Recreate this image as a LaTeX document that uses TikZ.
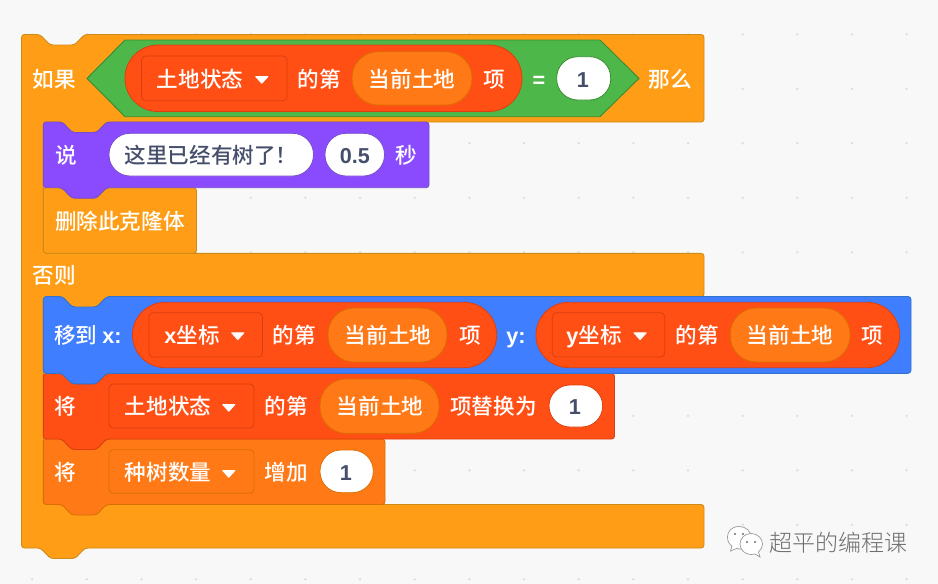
\documentclass[tikz,border=0pt]{standalone}
\usepackage{fontspec}
\setmainfont{Noto Sans CJK SC}[UprightFont=* Medium]
\newfontfamily\latfont{Liberation Sans}[UprightFont=* Bold]
\newfontfamily\markfont{Noto Sans CJK SC}[UprightFont=* Light]
\definecolor{canvasbg}{HTML}{F8F8F8}
\definecolor{griddot}{HTML}{DDDDDD}
\definecolor{ctrlfill}{HTML}{FF9E16}
\definecolor{ctrlline}{HTML}{CF8B17}
\definecolor{lookfill}{HTML}{8A4BFF}
\definecolor{lookline}{HTML}{774DCB}
\definecolor{movefill}{HTML}{3F7FFF}
\definecolor{moveline}{HTML}{3373CC}
\definecolor{listfill}{HTML}{FF4F14}
\definecolor{listline}{HTML}{DB3F10}
\definecolor{varfill}{HTML}{FF7A16}
\definecolor{varline}{HTML}{DB6E00}
\definecolor{opfill}{HTML}{4DB849}
\definecolor{opline}{HTML}{3A8A32}
\definecolor{inktext}{HTML}{454F6B}
\definecolor{marktext}{HTML}{6E6E6E}
\tikzset{
  wtext/.style={text=white,inner sep=0pt,text height=16pt,text depth=0pt,font=\fontsize{21.6}{24}\selectfont},
  dtext/.style={wtext,text=inktext},
  ctrlblock/.style={fill=ctrlfill,draw=ctrlline,line width=.9pt},
  lookblock/.style={fill=lookfill,draw=lookline,line width=.9pt},
  moveblock/.style={fill=movefill,draw=moveline,line width=.9pt},
  listblock/.style={fill=listfill,draw=listline,line width=.9pt},
  varblock/.style={fill=varfill,draw=varline,line width=.9pt},
  listslot/.style={fill=listfill,draw=listline,line width=.8pt},
  varslot/.style={fill=varfill,draw=varline,line width=.8pt},
  whiteslot/.style={line width=.8pt,fill=white},
  ddmark/.style={fill=white,draw=white,line width=1pt,line join=round},
  bubble/.style={fill=white,draw=marktext!70,line width=.7pt},
}
% stack block with a tab under it: style, x1, y1, x2, y2
\newcommand{\stackblock}[5]{%
  \draw[#1,rounded corners=3pt] (#2,#3+9) -- (#2,#3) -- ++(19,0) -- ++(10,10.5) -- ++(24.5,0) -- ++(10,-10.5)
    -- (#4,#3) -- (#4,#5) -- ({#2+63},#5) -- ++(-10,10.5) -- ++(-24.5,0) -- ++(-10,-10.5) -- (#2,#5) -- cycle;}
% last block of a stack, no tab
\newcommand{\capblock}[5]{%
  \draw[#1,rounded corners=3pt] (#2,#3+9) -- (#2,#3) -- ++(19,0) -- ++(10,10.5) -- ++(24.5,0) -- ++(10,-10.5)
    -- (#4,#3) -- (#4,#5) -- (#2,#5) -- cycle;}
% pill: style, x1, y1, x2, y2, radius
\newcommand{\slotpill}[6]{\draw[#1,rounded corners=#6pt] (#2,#3) rectangle (#4,#5);}
% dropdown triangle: left x, top y
\newcommand{\ddtri}[2]{\fill[ddmark] (#1+.8,#2+.6) -- (#1+12.8,#2+.6) -- (#1+6.8,#2+7.2) -- cycle;}
\begin{document}
\begin{tikzpicture}[x=1pt,y=-1pt]
\useasboundingbox (0,0) rectangle (938,584);
\fill[canvasbg] (0,0) rectangle (938,584);
\foreach \i in {0,...,16}{\foreach \j in {0,...,10}{
  \fill[griddot] ({32.2+54.65*\i},{34.3+54.5*\j}) circle (1.3pt);}}
% C block
\draw[ctrlblock,rounded corners=3pt] (21.5,44) -- (21.5,34.5) -- (40,34.5) -- ++(10,10.5) -- ++(24.5,0) -- ++(10,-10.5)
  -- (704,34.5) -- (704,122) -- (106.3,122) -- ++(-10,10.5) -- ++(-24.5,0) -- ++(-10,-10.5) -- (43.3,122)
  -- (43.3,253.3) -- (704,253.3) -- (704,297) -- (106.3,297) -- ++(-10,10.5) -- ++(-24.5,0) -- ++(-10,-10.5) -- (43.3,297)
  -- (43.3,504.5) -- (704,504.5) -- (704,548) -- (85,548) -- ++(-10,10.5) -- ++(-24.5,0) -- ++(-10,-10.5) -- (21.5,548) -- cycle;
\node[wtext] (ifword) at (54.5,79) {如果};
\node[wtext] (thenword) at (670,79) {那么};
\node[wtext] (elseword) at (54.5,275) {否则};
% Condition
\draw[fill=opfill,draw=opline,line width=.9pt,line join=miter] (87,78.4) -- (125,40) -- (600,40) -- (639,78.4) -- (600,116.7) -- (125,116.7) -- cycle;
\slotpill{listslot}{125}{45}{522}{111.5}{33}
\slotpill{listslot}{141.5}{56}{287}{100.7}{4}
\node[wtext] (statea) at (200,79) {土地状态};
\ddtri{255}{76}
\node[wtext] (ofa) at (319.5,79) {的第};
\slotpill{varslot}{352}{51.7}{472}{105}{26}
\node[wtext] (curra) at (412,79) {当前土地};
\node[wtext] (itema) at (494,79) {项};
\node[wtext] (eqsign) at (539,79) {\latfont =};
\slotpill{whiteslot,draw=opline}{556.7}{56.7}{610.7}{100}{21}
\node[dtext] (onea) at (583,79) {\latfont 1};
% Delete block, then say block over it
\capblock{ctrlblock}{43.3}{187.7}{196.5}{253.3}
\node[wtext] (deleteword) at (120,221.7) {删除此克隆体};
\stackblock{lookblock}{43.3}{122}{429}{187.7}
\node[wtext] (sayword) at (66,155.5) {说};
\slotpill{whiteslot,draw=lookline}{109}{133.3}{313.5}{176}{21}
\node[dtext,anchor=west] (saytext) at (124.5,155.5) {这里已经有树了！};
\slotpill{whiteslot,draw=lookline}{325}{133.3}{384.5}{176}{21}
\node[dtext] (saynum) at (354.8,155.5) {\latfont 0.5};
\node[wtext] (secword) at (406,155.5) {秒};
% Change variable block
\stackblock{varblock}{43.3}{439}{385}{504.5}
\node[wtext] (setb) at (65.5,472.3) {将};
\slotpill{varslot}{109}{449.7}{254}{493.3}{4}
\node[wtext] (treevar) at (168,472.3) {种树数量};
\ddtri{222}{470}
\node[wtext] (incword) at (286,472.3) {增加};
\slotpill{whiteslot,draw=varline}{320}{450}{373.3}{492.7}{21}
\node[dtext] (oneb) at (346,472.3) {\latfont 1};
% Replace item block
\stackblock{listblock}{43.3}{373.3}{614.5}{439}
\node[wtext] (setc) at (65.5,406.7) {将};
\slotpill{listslot}{109}{384}{254}{428}{4}
\node[wtext] (statec) at (168,406.7) {土地状态};
\ddtri{222}{404}
\node[wtext] (ofc) at (286,406.7) {的第};
\slotpill{varslot}{320}{379}{439}{433.3}{26}
\node[wtext] (currc) at (380,406.7) {当前土地};
\node[wtext] (replaceword) at (493.5,406.7) {项替换为};
\slotpill{whiteslot,draw=listline}{549}{385}{602.7}{427}{21}
\node[dtext] (onec) at (575,406.7) {\latfont 1};
% Go to block
\stackblock{moveblock}{43.3}{296.5}{911}{373.3}
\node[wtext] (gotoword) at (88,335) {移到 {\latfont x:}};
\slotpill{listslot}{132.5}{302.3}{496.7}{367.7}{32.7}
\slotpill{listslot}{149}{312.7}{262.5}{357}{4}
\node[wtext] (xvar) at (192,335) {{\latfont x}坐标};
\ddtri{231}{332.3}
\node[wtext] (ofx) at (294.5,335) {的第};
\slotpill{varslot}{328}{308}{447}{362}{26}
\node[wtext] (currx) at (388,335) {当前土地};
\node[wtext] (itemx) at (470,335) {项};
\node[wtext] (yword) at (516,335) {\latfont y:};
\slotpill{listslot}{536}{302.3}{899.7}{367.7}{32.7}
\slotpill{listslot}{552.3}{312.7}{664.7}{357}{4}
\node[wtext] (yvar) at (594,335) {{\latfont y}坐标};
\ddtri{633.3}{332.3}
\node[wtext] (ofy) at (697.3,335) {的第};
\slotpill{varslot}{730.3}{308}{850}{362}{26}
\node[wtext] (curry) at (790,335) {当前土地};
\node[wtext] (itemy) at (872,335) {项};
% Watermark
\draw[bubble] (739,526.5) .. controls (731,526.5) and (727.5,532) .. (727.5,537) .. controls (727.5,541) and (729,544) .. (732,546) -- (730.5,551) -- (736.5,548.5) .. controls (738,549) and (740,549.2) .. (742,549) .. controls (747,548) and (751,543) .. (751,537.5) .. controls (751,531) and (746,526.5) .. (739,526.5) -- cycle;
\draw[bubble] (751,533.5) .. controls (744.5,533.5) and (740,538.5) .. (740,544) .. controls (740,550) and (745,554.5) .. (751,554.5) .. controls (752.5,554.5) and (754,554.2) .. (755,554) -- (760,557) -- (758.5,552) .. controls (761,550) and (762.5,547) .. (762.5,544) .. controls (762.5,538.5) and (757.5,533.5) .. (751,533.5) -- cycle;
\fill[marktext] (735,534) circle (1.2pt) (743,534) circle (1.2pt) (747,542) circle (1.1pt) (755,542) circle (1.1pt);
\node[inner sep=0pt,text=marktext,text height=18pt,text depth=0pt,font=\markfont\fontsize{23}{26}\selectfont] (markword) at (838.5,542) {超平的编程课};
\end{tikzpicture}
\end{document}
